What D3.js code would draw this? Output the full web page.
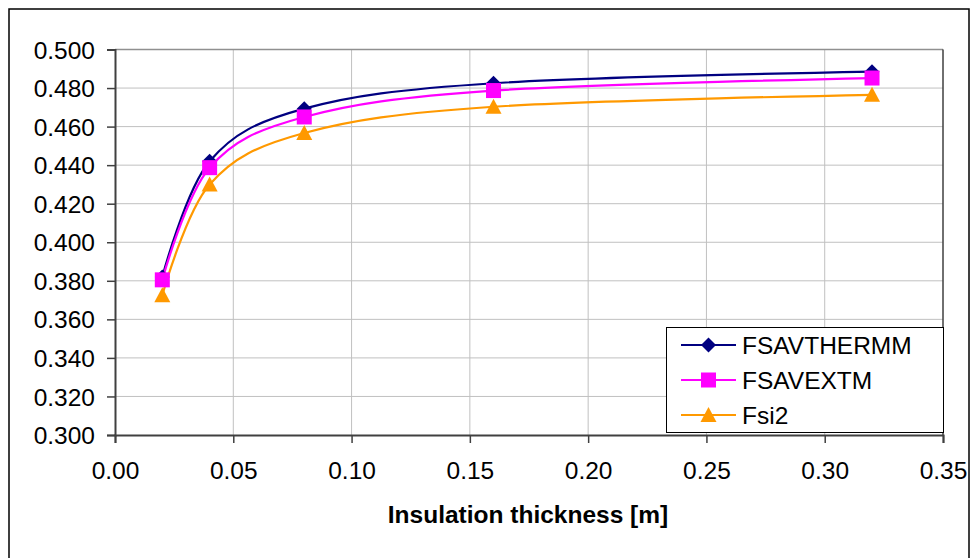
<!DOCTYPE html>
<html><head><meta charset="utf-8">
<script src="https://cdn.jsdelivr.net/npm/d3@7"></script>
<style>body{margin:0;background:#fff}svg{display:block;font-family:"Liberation Sans",Arial,sans-serif}</style>
</head><body>
<script>
const thickness = [0.02, 0.04, 0.08, 0.16, 0.32];
const fsavthermm = [0.382, 0.442, 0.4693, 0.4825, 0.4885];
const fsavextm = [0.3805, 0.4387, 0.4650, 0.4787, 0.4852];
const fsi2 = [0.3725, 0.4300, 0.4567, 0.4703, 0.4765];
const seriesNames = ["FSAVTHERMM", "FSAVEXTM", "Fsi2"];
const seriesColors = ["#000080", "#ff00ff", "#ff9900"];
const xTicks = [0, 0.05, 0.10, 0.15, 0.20, 0.25, 0.30, 0.35];
const yTicks = [0.300, 0.320, 0.340, 0.360, 0.380, 0.400, 0.420, 0.440, 0.460, 0.480, 0.500];
const xTitle = "Insulation thickness [m]";

const W = 970, H = 558, FS = 24.5;
const L = 115, R = 943, T = 49.5, B = 435;
const svg = d3.select("body").append("svg").attr("width", W).attr("height", H);
svg.append("rect").attr("x", 9).attr("y", 9).attr("width", 960).attr("height", 560)
  .attr("fill", "#fff").attr("stroke", "#000").attr("stroke-width", 1.5);

const x = d3.scaleLinear().domain([0, 0.35]).range([L, R]);
const y = d3.scaleLinear().domain([0.3, 0.5]).range([B, T]);

// grid
svg.append("g").selectAll("line").data(xTicks.slice(1)).join("line")
  .attr("x1", d => x(d)).attr("x2", d => x(d)).attr("y1", T).attr("y2", B)
  .attr("stroke", "#c0c0c0").attr("stroke-width", 1);
svg.append("g").selectAll("line").data(yTicks.slice(1)).join("line")
  .attr("x1", L).attr("x2", R).attr("y1", d => y(d)).attr("y2", d => y(d))
  .attr("stroke", "#c0c0c0").attr("stroke-width", 1);
// plot border
svg.append("line").attr("x1", L).attr("x2", R).attr("y1", T).attr("y2", T).attr("stroke", "#909090").attr("stroke-width", 1.5);
svg.append("line").attr("x1", R).attr("x2", R).attr("y1", T).attr("y2", B).attr("stroke", "#000").attr("stroke-width", 1);

// axes
const xAxis = d3.axisBottom(x).tickValues(xTicks).tickFormat(d3.format(".2f")).tickSizeOuter(0).tickSize(8).tickPadding(19);
const gx = svg.append("g").attr("transform", `translate(0,${B})`).call(xAxis);
const yAxis = d3.axisLeft(y).tickValues(yTicks).tickFormat(d3.format(".3f")).tickSizeOuter(0).tickSize(8).tickPadding(12);
const gy = svg.append("g").attr("transform", `translate(${L},0)`).call(yAxis);
[gx, gy].forEach(g => {
  g.attr("font-size", FS).attr("font-family", '"Liberation Sans",Arial,sans-serif');
  g.select(".domain").attr("stroke", "#404040").attr("stroke-width", 2);
  g.selectAll(".tick line").attr("stroke", "#404040").attr("stroke-width", 1.5);
  g.selectAll("text").attr("font-size", FS).attr("fill", "#000");
});
gy.selectAll("text").attr("dy", "0.35em");

svg.append("text").attr("x", 528).attr("y", 523).attr("text-anchor", "middle")
  .attr("font-size", FS).attr("font-weight", "bold").text(xTitle);

const line = d3.line().x((d, i) => x(thickness[i])).y(d => y(d)).curve(d3.curveCardinal.tension(0));
const allSeries = [fsavthermm, fsavextm, fsi2];
const symbols = [
  (g, cx, cy, c) => g.append("path").attr("d", `M${cx},${cy-7.5}L${cx+7.5},${cy}L${cx},${cy+7.5}L${cx-7.5},${cy}Z`).attr("fill", c),
  (g, cx, cy, c) => g.append("rect").attr("x", cx-7.5).attr("y", cy-7.5).attr("width", 15).attr("height", 15).attr("fill", c),
  (g, cx, cy, c) => g.append("path").attr("d", `M${cx},${cy-8}L${cx+8},${cy+7}L${cx-8},${cy+7}Z`).attr("fill", c)
];
allSeries.forEach((s, k) => {
  svg.append("path").datum(s).attr("d", line).attr("fill", "none")
    .attr("stroke", seriesColors[k]).attr("stroke-width", 2.2);
});
allSeries.forEach((s, k) => {
  const g = svg.append("g");
  s.forEach((v, i) => symbols[k](g, x(thickness[i]), y(v), seriesColors[k]));
});

// legend
const lg = svg.append("g");
lg.append("rect").attr("x", 666.5).attr("y", 327.5).attr("width", 277).attr("height", 105)
  .attr("fill", "#fff").attr("stroke", "#000").attr("stroke-width", 1);
seriesNames.forEach((n, k) => {
  const cy = 345 + k * 35;
  lg.append("line").attr("x1", 681).attr("x2", 736).attr("y1", cy).attr("y2", cy)
    .attr("stroke", seriesColors[k]).attr("stroke-width", 2.2);
  symbols[k](lg, 708.5, cy, seriesColors[k]);
  lg.append("text").attr("x", 742).attr("y", cy).attr("dy", "0.36em").attr("font-size", FS).text(n);
});
</script>
</body></html>
